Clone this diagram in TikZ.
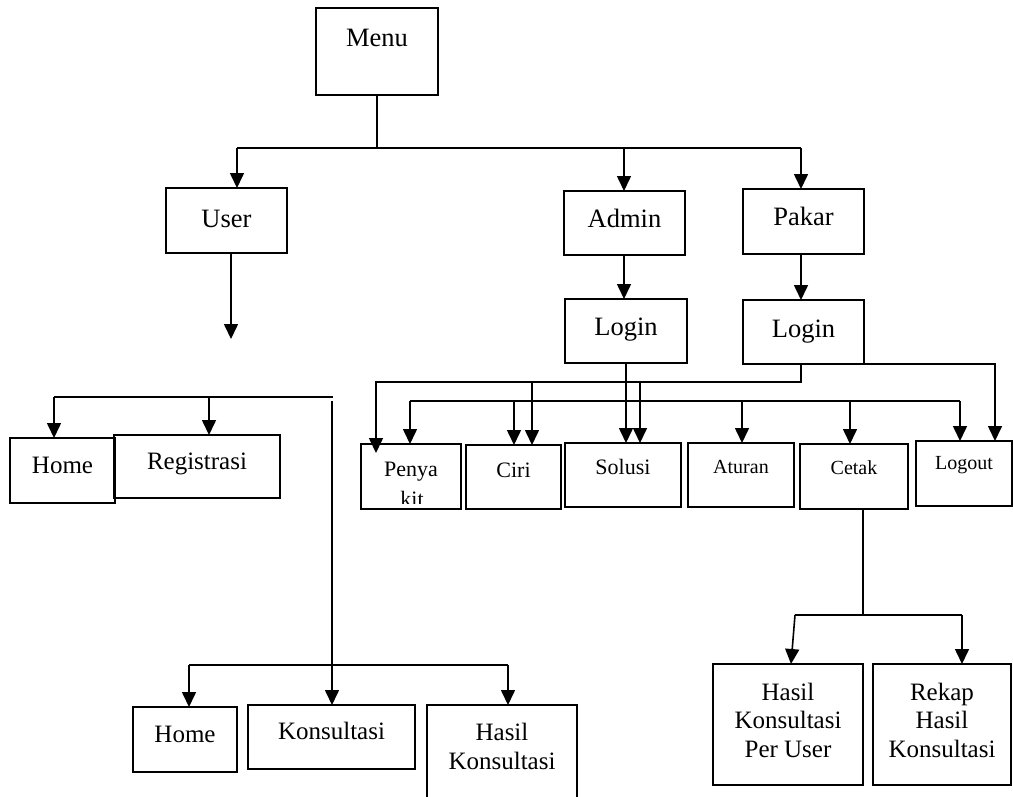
\documentclass[tikz,border=0pt]{standalone}
\usepackage{fontspec}
\setmainfont{Liberation Serif}
\usetikzlibrary{arrows.meta}

% font sizes used in the boxes
\newcommand{\szL}{\fontsize{26.5}{30}\selectfont}
\newcommand{\szM}{\fontsize{25}{28.5}\selectfont}
\newcommand{\szS}{\fontsize{22}{26}\selectfont}
\newcommand{\szT}{\fontsize{20}{24}\selectfont}
% shift a line of text so its baseline sits #1 above the box centre
\newcommand{\lift}[2]{\raisebox{#1pt}[0pt][0pt]{#2}}
% box from corner (#2,#3) to corner (#4,#5), named #1, with font #6 and content #7
\newcommand{\boxat}[7]{%
  \node[blk, font=#6, minimum width={(#4-#2)*1pt}, minimum height={(#5-#3)*1pt}]
    (#1) at ({(#2+#4)/2},{(#3+#5)/2}) {#7};}

\tikzset{
  blk/.style={draw, rectangle, line width=1.6pt, inner sep=0pt, outer sep=0pt},
  conn/.style={line width=1.6pt},
  arr/.style={conn, -{Triangle[length=15pt,width=14pt]}},
}

\begin{document}
\begin{tikzpicture}[x=1pt, y=-1pt]
\useasboundingbox (0,0) rectangle (1013,796);
\clip (0,0) rectangle (1013,796);

% ---- boxes ----
\boxat{menu}{316}{8}{438}{95}{\szL}{\lift{5.5}{Menu}}
\boxat{user}{166}{188}{287}{253}{\szL}{\lift{-6.5}{User}}
\boxat{admin}{564}{191}{685}{255}{\szL}{\lift{-4}{Admin}}
\boxat{pakar}{743}{189}{864}{254}{\szL}{\lift{-3.5}{Pakar}}
\boxat{alogin}{565}{299}{687}{363}{\szL}{\lift{-4}{Login}}
\boxat{plogin}{743}{300}{864}{364}{\szL}{\lift{-5}{Login}}

\boxat{home}{10}{438}{115}{503}{\szM}{\lift{-2.5}{Home}}
\boxat{reg}{114}{435}{280}{498}{\szM}{\lift{-2.5}{Registrasi}}

\boxat{penyakit}{361}{444}{461}{509}{\szS}{\lift{0.5}{Penya}}
\boxat{ciri}{466}{445}{561}{509}{\szS}{\lift{0}{Ciri}}
\boxat{solusi}{565}{443}{681}{507}{\szS}{\lift{1}{Solusi}}
\boxat{aturan}{688}{443}{794}{507}{\szT}{\lift{2}{Aturan}}
\boxat{cetak}{800}{444}{908}{509}{\szT}{\lift{2.5}{Cetak}}
\boxat{logout}{916}{441}{1012}{506}{\szT}{\lift{4.5}{Logout}}

\boxat{hpu}{713}{664}{863}{785}{\szM}{\lift{24.5}{\begin{tabular}[t]{@{}c@{}}Hasil\\Konsultasi\\Per User\end{tabular}}}
\boxat{rekap}{873}{664}{1011}{785}{\szM}{\lift{24.5}{\begin{tabular}[t]{@{}c@{}}Rekap\\Hasil\\Konsultasi\end{tabular}}}

\boxat{home2}{133}{707}{237}{772}{\szM}{\lift{-2.5}{Home}}
\boxat{kons}{248}{705}{415}{769}{\szM}{\lift{-2}{Konsultasi}}
\boxat{hasil}{427}{705}{577}{810}{\szM}{\lift{17.5}{\begin{tabular}[t]{@{}c@{}}Hasil\\[0.5pt]Konsultasi\end{tabular}}}

% second line of "Penyakit", cut off by the box
\begin{scope}
  \clip (362,440) rectangle (460,503);
  \node[font=\szS, anchor=base, inner sep=0pt] (penyakitb) at (412,506) {kit};
\end{scope}

% ---- Menu to the three roles ----
\coordinate (mtee) at (377,148);
\coordinate (busL) at (237,148);
\coordinate (busA) at (624,148);
\coordinate (busR) at (801,148);
\draw[conn] (menu.south) -- (mtee);
\draw[conn] (busL) -- (busR);
\draw[arr] (busL) -- (busL |- user.north);
\draw[arr] (busA) -- (busA |- admin.north);
\draw[arr] (busR) -- (busR |- pakar.north);

% ---- User branch ----
\coordinate (uend) at (231,339);
\draw[arr] (uend |- user.south) -- (uend);

\coordinate (hb1) at (54,397);
\coordinate (hb3) at (209,397);
\coordinate (hb2) at (333,397);
\draw[conn] (hb1) -- (hb2);
\draw[arr] (hb1) -- (hb1 |- home.north);
\draw[arr] (hb3) -- (hb3 |- reg.north);

\coordinate (kv) at (332,401);
\draw[arr] (kv) -- (kv |- kons.north);

\coordinate (bb1) at (189,665);
\coordinate (bb2) at (508,665);
\draw[conn] (bb1) -- (bb2);
\draw[arr] (bb1) -- (bb1 |- home2.north);
\draw[arr] (bb2) -- (bb2 |- hasil.north);

% ---- Admin and Pakar logins ----
\draw[arr] (busA |- admin.south) -- (busA |- alogin.north);
\draw[arr] (busR |- pakar.south) -- (busR |- plogin.north);

\coordinate (as) at (626,363);
\draw[arr] (as |- alogin.south) -- (as |- solusi.north);

\coordinate (pr) at (995,364);
\draw[arr] (plogin.south east) -- (pr) -- (pr |- logout.north);

\coordinate (pj) at (801,382);
\coordinate (pl) at (376,382);
\coordinate (pktip) at (376,453);
\draw[arr] (pj |- plogin.south) -- (pj) -- (pl) -- (pktip);
\coordinate (pc) at (532,382);
\coordinate (ps) at (640,382);
\draw[arr] (pc) -- (pc |- ciri.north);
\draw[arr] (ps) -- (ps |- solusi.north);

% ---- menu row bus ----
\coordinate (r1) at (410,401);
\coordinate (r2) at (514,401);
\coordinate (r3) at (742,401);
\coordinate (r4) at (850,401);
\coordinate (r5) at (960,401);
\draw[conn] (r1) -- (r5);
\draw[arr] (r1) -- (r1 |- penyakit.north);
\draw[arr] (r2) -- (r2 |- ciri.north);
\draw[arr] (r3) -- (r3 |- aturan.north);
\draw[arr] (r4) -- (r4 |- cetak.north);
\draw[arr] (r5) -- (r5 |- logout.north);

% ---- Cetak branch ----
\coordinate (cs) at (863,615);
\coordinate (c1) at (795,615);
\coordinate (c2) at (962,615);
\coordinate (c1t) at (791,664);
\draw[conn] (cs |- cetak.south) -- (cs);
\draw[conn] (c1) -- (c2);
\draw[arr] (c1) -- (c1t);
\draw[arr] (c2) -- (c2 |- rekap.north);
\end{tikzpicture}
\end{document}
